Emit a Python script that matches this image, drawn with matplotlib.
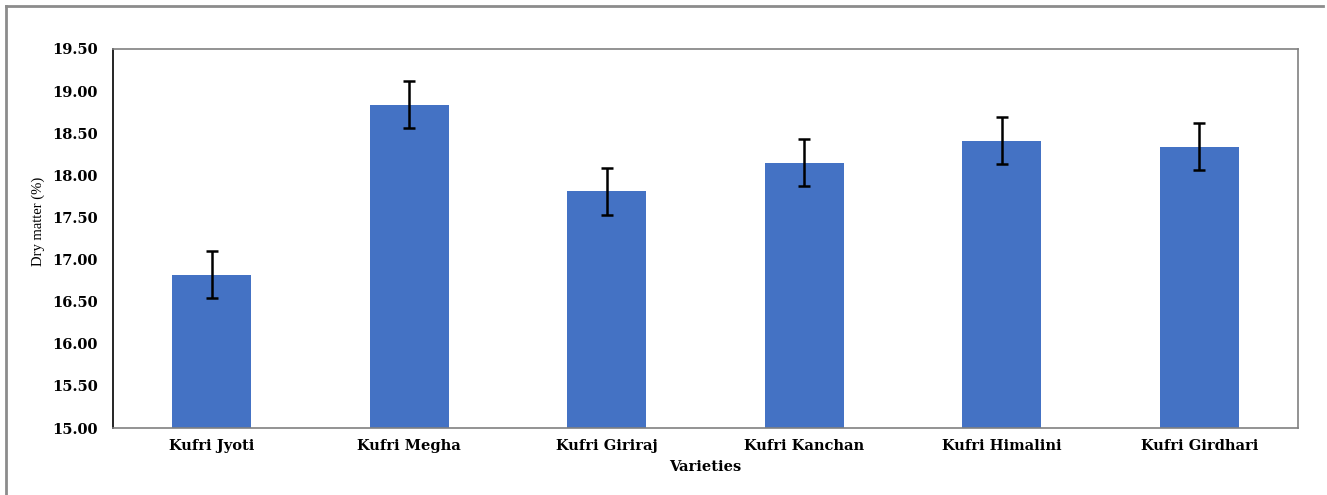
import matplotlib

matplotlib.use("Agg")
import matplotlib.pyplot as plt  # noqa: E402
from matplotlib.lines import Line2D  # noqa: E402

varieties = ["Kufri Jyoti", "Kufri Megha", "Kufri Giriraj",
             "Kufri Kanchan", "Kufri Himalini", "Kufri Girdhari"]
dry_matter = [16.82, 18.84, 17.81, 18.15, 18.41, 18.34]
std_err = [0.28, 0.28, 0.28, 0.28, 0.28, 0.28]
y_ticks = [15.0, 15.5, 16.0, 16.5, 17.0, 17.5, 18.0, 18.5, 19.0, 19.5]

W, H = 1327, 495
BOLD = dict(family=["DejaVu Serif"], fontweight="bold", fontsize=10.5)

plt.rcParams["font.family"] = ["Liberation Serif", "DejaVu Serif"]

fig = plt.figure(figsize=(W / 100, H / 100), dpi=100)
ax = fig.add_axes([113 / W, 1 - 428 / H, 1185 / W, 379 / H])

# chart frame: only the top and left edges show
frame = dict(color="#8c8c8c", linewidth=2, transform=fig.transFigure)
fig.add_artist(Line2D([6 / W, 1323 / W], [1 - 6 / H, 1 - 6 / H], **frame))
fig.add_artist(Line2D([6 / W, 6 / W], [0, 1 - 6 / H], **frame))

xs = range(len(varieties))
ax.bar(xs, dry_matter, width=0.4, color="#4472C4", zorder=2)
ax.errorbar(xs, dry_matter, yerr=std_err, fmt="none", ecolor="black",
            elinewidth=1.8, capsize=4, capthick=1.8, zorder=3)

ax.set_xlim(-0.5, len(varieties) - 0.5)
ax.set_ylim(15.0, 19.5)
ax.set_yticks(y_ticks)
ax.set_yticklabels([f"{v:.2f}" for v in y_ticks], **BOLD)
ax.set_xticks(list(xs))
ax.set_xticklabels(varieties, **BOLD)
ax.tick_params(length=0)
ax.tick_params(axis="y", pad=11)
ax.tick_params(axis="x", pad=8)

for side in ["top", "right", "bottom"]:
    ax.spines[side].set_color("#808080")
    ax.spines[side].set_linewidth(1.2)
ax.spines["left"].set_color("black")
ax.spines["left"].set_linewidth(1.2)

ax.set_ylabel("Dry matter (%)", fontsize=10.5)
ax.yaxis.set_label_coords(-(113 - 45) / 1185, (428 - 221) / 379)
ax.set_xlabel("Varieties", **BOLD)
ax.xaxis.set_label_coords(0.5, -(460 - 428) / 379)

fig.savefig("out.png", dpi=100)
plt.close(fig)
